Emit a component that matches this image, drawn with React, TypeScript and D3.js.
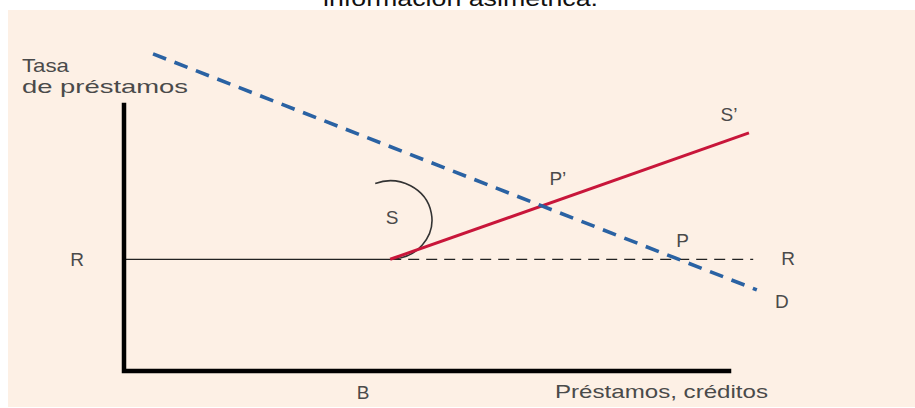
import React from "react";
import * as d3 from "d3";

// ---- data (chart units: loans on x, lending rate on y) ----
const axisEnds = [100, 100]; // [x end of loans axis, y end of rate axis]
const rateR = [42]; // reservation / safe rate level R
const loanB = [44]; // loan volume B where supply bends
const supplyEnd = [103.3, 89.5]; // S' end point
const demandStart = [4.8, 119.2];
const demandEnd = [104.6, 30.5];
const rDashEnd = [104];
const sArcCenter = [44, 56.8];
const sArcRadii = [6.9, 14.7];
const sArcStartDeg = [111];
const titleText = ["información asimétrica."];
const yAxisLabel = ["Tasa", "de préstamos"];
const xAxisLabel = ["Préstamos, créditos"];
const pointLabels = ["R", "R", "B", "S", "S’", "P’", "P", "D"];

const W = 915;
const H = 408;

export default function App() {
  const x = d3.scaleLinear().domain([0, 100]).range([124, 729]);
  const y = d3.scaleLinear().domain([0, 100]).range([371, 105]);
  const line = d3.line<number[]>().x((d) => x(d[0])).y((d) => y(d[1]));

  const R = rateR[0];
  const B = loanB[0];
  const kink = [B, R];

  const dm = (demandEnd[1] - demandStart[1]) / (demandEnd[0] - demandStart[0]);
  const sm = (supplyEnd[1] - R) / (supplyEnd[0] - B);
  const pX = demandStart[0] + (R - demandStart[1]) / dm;
  const ppX = (R - sm * B - demandStart[1] + dm * demandStart[0]) / (dm - sm);
  const ppY = R + sm * (ppX - B);

  const cx = x(sArcCenter[0]);
  const cy = y(sArcCenter[1]);
  const rx = x(sArcRadii[0]) - x(0);
  const ry = y(0) - y(sArcRadii[1]);
  const a0 = (sArcStartDeg[0] * Math.PI) / 180;
  const sx = cx + rx * Math.cos(a0);
  const sy = cy - ry * Math.sin(a0);
  const ex = cx;
  const ey = cy + ry;
  const arcPath = `M${sx},${sy} A${rx},${ry} 0 1 1 ${ex},${ey}`;

  const font = "'Liberation Sans', Arial, Helvetica, sans-serif";
  const txt = "#4a4a4a";

  const labels = [
    { t: pointLabels[0], px: x(0) - 47, py: y(R) },
    { t: pointLabels[1], px: x(rDashEnd[0]) + 35, py: y(R) - 1 },
    { t: pointLabels[2], px: x(B) - 27, py: 392 },
    { t: pointLabels[3], px: cx + 2, py: cy - 2 },
    { t: pointLabels[4], px: x(supplyEnd[0]) - 20, py: y(supplyEnd[1]) - 18 },
    { t: pointLabels[5], px: x(ppX) + 16, py: y(ppY) - 27 },
    { t: pointLabels[6], px: x(pX) + 4, py: y(R) - 19 },
    { t: pointLabels[7], px: x(demandEnd[0]) + 25, py: y(demandEnd[1]) + 12 },
  ];

  return (
    <svg
      width={W}
      height={H}
      viewBox={`0 0 ${W} ${H}`}
      style={{ position: "absolute", left: 0, top: 0, background: "#ffffff" }}
    >
      <rect x={0} y={0} width={W} height={H} fill="#ffffff" />
      <text
        x={323}
        y={6}
        fontFamily={font}
        fontSize={22}
        fill="#111"
        textLength={275}
        lengthAdjust="spacingAndGlyphs"
      >
        {titleText[0]}
      </text>
      <rect x={8} y={10} width={W - 8} height={H - 11} fill="#fdf0e5" />

      <path d={line([[0, R], kink])!} stroke="#222" strokeWidth={1.3} fill="none" />
      <path
        d={line([kink, [rDashEnd[0], R]])!}
        stroke="#222"
        strokeWidth={1.3}
        strokeDasharray="11 7"
        fill="none"
      />

      <path d={arcPath} stroke="#333" strokeWidth={1.6} fill="none" />

      <path d={line([kink, supplyEnd])!} stroke="#c8163a" strokeWidth={3} fill="none" />

      <path
        d={line([demandStart, demandEnd])!}
        stroke="#2a62a3"
        strokeWidth={3.6}
        strokeDasharray="14 9"
        fill="none"
      />

      <path
        d={line([[0, axisEnds[1]], [0, 0], [axisEnds[0], 0]])!}
        stroke="#000"
        strokeWidth={4.5}
        fill="none"
        strokeLinejoin="miter"
        strokeLinecap="square"
      />

      <text x={22} y={72} fontFamily={font} fontSize={19} fill={txt} textLength={47} lengthAdjust="spacingAndGlyphs">
        {yAxisLabel[0]}
      </text>
      <text x={22} y={93} fontFamily={font} fontSize={19} fill={txt} textLength={166} lengthAdjust="spacingAndGlyphs">
        {yAxisLabel[1]}
      </text>
      <text x={555} y={398} fontFamily={font} fontSize={19} fill={txt} textLength={213} lengthAdjust="spacingAndGlyphs">
        {xAxisLabel[0]}
      </text>

      {labels.map((l, i) => (
        <text
          key={i}
          x={l.px}
          y={l.py}
          fontFamily={font}
          fontSize={19}
          fill={txt}
          textAnchor="middle"
          dominantBaseline="central"
        >
          {l.t}
        </text>
      ))}
    </svg>
  );
}
